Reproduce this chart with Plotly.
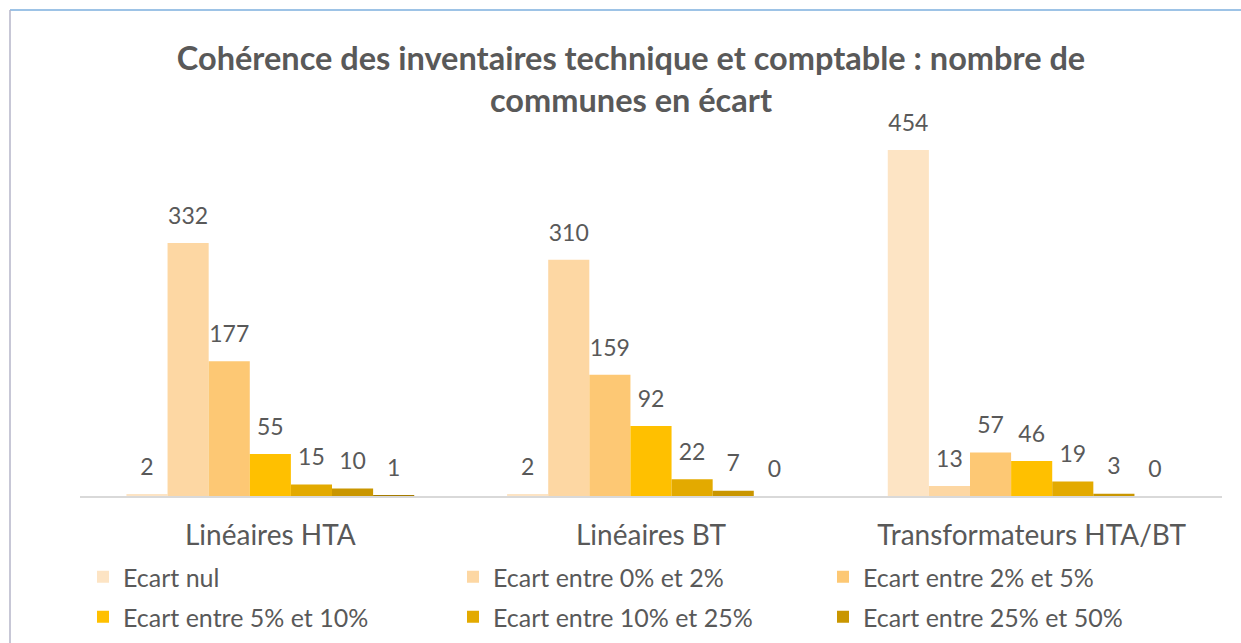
import plotly.graph_objects as go

categories = ["Linéaires HTA", "Linéaires BT", "Transformateurs HTA/BT"]
series_names = [
    "Ecart nul",
    "Ecart entre 0% et 2%",
    "Ecart entre 2% et 5%",
    "Ecart entre 5% et 10%",
    "Ecart entre 10% et 25%",
    "Ecart entre 25% et 50%",
    "Ecart supérieur à 50%",
]
ecart_nul = [2, 2, 454]
ecart_0_2 = [332, 310, 13]
ecart_2_5 = [177, 159, 57]
ecart_5_10 = [55, 92, 46]
ecart_10_25 = [15, 22, 19]
ecart_25_50 = [10, 7, 3]
ecart_sup_50 = [1, 0, 0]
series_values = [ecart_nul, ecart_0_2, ecart_2_5, ecart_5_10, ecart_10_25, ecart_25_50, ecart_sup_50]

colors = ["#FDE4C4", "#FDD7A3", "#FDC874", "#FFC000", "#E3AA00", "#C99600", "#A57B00"]
legend_ids = ["legend", "legend", "legend", "legend2", "legend2", "legend2", "legend"]

FONT = "Lato, 'Open Sans', sans-serif"
TXT = "#595959"

W, H = 1241, 643
ML, MR, MT, MB = 80, 19, 115, 147
pw = W - ML - MR
ph = H - MT - MB

def px_x(p):
    return (p - ML) / pw

def px_y(p):
    return (H - MB - p) / ph

fig = go.Figure()
for i, (name, vals) in enumerate(zip(series_names, series_values)):
    fig.add_trace(go.Bar(
        x=categories, y=vals, name=name,
        marker=dict(color=colors[i], line=dict(width=0)),
        offsetgroup=str(i),
        showlegend=(i < 6),
        legend=legend_ids[i],
    ))
for i, (name, vals) in enumerate(zip(series_names, series_values)):
    fig.add_trace(go.Scatter(
        x=categories, y=vals, name=name + " (étiquettes)",
        mode="markers+text", offsetgroup=str(i),
        marker=dict(size=20, opacity=0),
        text=[str(v) for v in vals], textposition="top center",
        textfont=dict(family=FONT, size=23, color=TXT),
        cliponaxis=False, showlegend=False, hoverinfo="skip",
    ))

legend_common = dict(orientation="h", xref="container", yref="container",
                     xanchor="left", yanchor="middle",
                     entrywidth=325, entrywidthmode="pixels",
                     font=dict(family=FONT, size=25, color=TXT), traceorder="normal",
                     bgcolor="rgba(0,0,0,0)")

fig.update_layout(
    width=W, height=H,
    margin=dict(l=ML, r=MR, t=MT, b=MB, autoexpand=False),
    paper_bgcolor="white", plot_bgcolor="white",
    barmode="group", scattermode="group", bargap=0.244, bargroupgap=0,
    title=dict(
        text="<b>Cohérence des inventaires technique et comptable : nombre de<br>communes en écart</b>",
        xref="container", yref="container",
        x=631 / W, xanchor="center", y=1 - 70 / H, yanchor="middle",
        font=dict(family=FONT, size=32.5, color=TXT),
    ),
    font=dict(family=FONT, color=TXT),
    xaxis=dict(showline=True, linecolor="#D9D9D9", linewidth=1.5, ticks="",
               tickfont=dict(family=FONT, size=28, color=TXT), showgrid=False,
               ticklabelstandoff=14),
    yaxis=dict(visible=False, range=[0, 500], showgrid=False, zeroline=False),
    legend=dict(legend_common, x=83 / W, y=1 - 577 / H),
    legend2=dict(legend_common, x=83 / W, y=1 - 617 / H),
    shapes=[
        dict(type="line", xref="paper", yref="paper",
             x0=px_x(10), x1=px_x(1245), y0=px_y(10), y1=px_y(10),
             line=dict(color="#9DC3E6", width=2)),
        dict(type="line", xref="paper", yref="paper",
             x0=px_x(10), x1=px_x(10), y0=px_y(10), y1=px_y(650),
             line=dict(color="#B4B4C8", width=1.5)),
    ],
)

fig.write_html("out.html", config={"displayModeBar": False},
               post_script="document.body.style.margin='0';document.body.style.overflow='hidden';")
